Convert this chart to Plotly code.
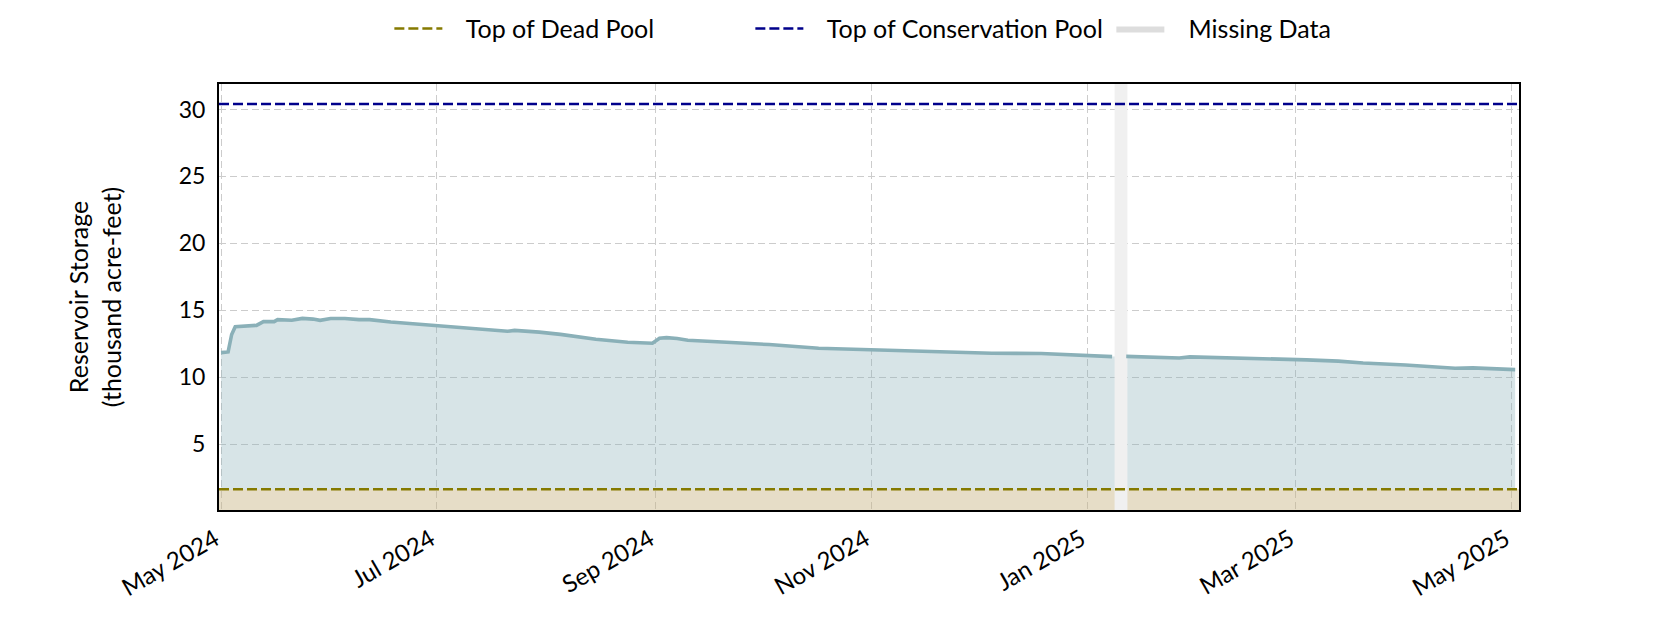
import plotly.graph_objects as go

# ---- data ----
dates = [
    "2024-05-01", "2024-05-03", "2024-05-04", "2024-05-05", "2024-05-11", "2024-05-13",
    "2024-05-16", "2024-05-17", "2024-05-21", "2024-05-24", "2024-05-27", "2024-05-29",
    "2024-06-01", "2024-06-05", "2024-06-09", "2024-06-12", "2024-06-18", "2024-06-23",
    "2024-07-01", "2024-07-09", "2024-07-17", "2024-07-21", "2024-07-23", "2024-07-27",
    "2024-07-30", "2024-08-05", "2024-08-15", "2024-08-24", "2024-08-31", "2024-09-02",
    "2024-09-04", "2024-09-07", "2024-09-10", "2024-09-21", "2024-10-03", "2024-10-17",
    "2024-10-28", "2024-11-01", "2024-11-09", "2024-11-21", "2024-12-05", "2024-12-19",
    "2024-12-31", "2025-01-08", "2025-01-10", "2025-01-12", "2025-01-21", "2025-01-27",
    "2025-01-30", "2025-02-01", "2025-02-13", "2025-02-22", "2025-03-04", "2025-03-13",
    "2025-03-20", "2025-04-01", "2025-04-10", "2025-04-15", "2025-04-20", "2025-04-24",
    "2025-05-02",
]
storage = [
    11.85, 11.90, 13.20, 13.78, 13.88, 14.16,
    14.16, 14.31, 14.26, 14.40, 14.35, 14.26,
    14.40, 14.40, 14.31, 14.31, 14.13, 14.03,
    13.88, 13.71, 13.54, 13.44, 13.51, 13.46,
    13.38, 13.21, 12.84, 12.62, 12.55, 12.92,
    12.97, 12.90, 12.77, 12.62, 12.45, 12.17,
    12.10, 12.05, 12.00, 11.92, 11.80, 11.78,
    11.68, 11.55, None, 11.57, 11.50, 11.45,
    11.53, 11.52, 11.45, 11.36, 11.31, 11.21,
    11.07, 10.92, 10.80, 10.68, 10.71, 10.66,
    10.58,
]
dead_pool = 1.65
conservation_pool = 30.4
missing_start = "2025-01-08 17:00"
missing_end = "2025-01-12 08:00"
x_range = ["2024-04-30 10:00", "2025-05-03 02:00"]
y_range = [0.1, 31.9]
y_ticks = [5, 10, 15, 20, 25, 30]
legend_names = ["Top of Dead Pool", "Top of Conservation Pool", "Missing Data"]

FONT = "Lato"
line_col = "#8ab0b8"
PAD = "\u00a0\u00a0\u00a0"

fig = go.Figure()

# dead pool fill (tan)
fig.add_trace(go.Scatter(x=x_range, y=[dead_pool, dead_pool], mode="lines",
                         line=dict(width=0), fill="tozeroy",
                         fillcolor="rgba(200,180,130,0.45)", showlegend=False,
                         hoverinfo="skip"))
# baseline for storage fill
filled_dates = [d for d, v in zip(dates, storage) if v is not None]
filled_vals = [v for v in storage if v is not None]
fig.add_trace(go.Scatter(x=filled_dates, y=[dead_pool] * len(filled_dates), mode="lines",
                         line=dict(width=0), showlegend=False, hoverinfo="skip"))
fig.add_trace(go.Scatter(x=filled_dates, y=filled_vals, mode="lines",
                         line=dict(width=0), fill="tonexty",
                         fillcolor="rgba(138,176,184,0.34)", showlegend=False,
                         hoverinfo="skip"))
# missing data band
fig.add_trace(go.Scatter(x=[missing_start, missing_start, missing_end, missing_end, missing_start],
                         y=[y_range[0], y_range[1], y_range[1], y_range[0], y_range[0]],
                         mode="lines", line=dict(width=0), fill="toself",
                         fillcolor="#f0f0f0", showlegend=False, hoverinfo="skip"))
# storage line
fig.add_trace(go.Scatter(x=dates, y=storage, mode="lines",
                         line=dict(color=line_col, width=3.6),
                         connectgaps=False, showlegend=False))
# pool lines
fig.add_trace(go.Scatter(x=x_range, y=[dead_pool, dead_pool], mode="lines",
                         line=dict(color="#857a00", width=2.5, dash="10px,4px"),
                         name=PAD + legend_names[0]))
fig.add_trace(go.Scatter(x=x_range, y=[conservation_pool, conservation_pool], mode="lines",
                         line=dict(color="#00008b", width=2.5, dash="10px,4px"),
                         name=PAD + legend_names[1]))
# legend-only missing data patch
fig.add_trace(go.Scatter(x=[None], y=[None], mode="lines", fill="toself",
                         fillcolor="#dddddd", line=dict(width=0),
                         name=PAD + legend_names[2]))

fig.update_layout(
    width=1680, height=630,
    paper_bgcolor="white", plot_bgcolor="white",
    margin=dict(l=211, r=169, t=76, b=128, autoexpand=False),
    font=dict(family=FONT, size=23, color="black"),
    legend=dict(orientation="h", x=0.227, xanchor="left", xref="container",
                y=0.967, yanchor="middle", yref="container", traceorder="normal",
                font=dict(size=25), bgcolor="rgba(0,0,0,0)",
                entrywidth=298, itemwidth=48),
    showlegend=True,
)
fig.update_xaxes(
    type="date", range=x_range, tick0="2024-05-01", dtick="M2", tickformat="%b %Y",
    tickangle=-30, showgrid=True, gridcolor="#cccccc", griddash="7px,4px", gridwidth=1.4,
    showline=True, linecolor="black", linewidth=2, mirror=True, ticks="",
    zeroline=False, tickfont=dict(size=24), automargin=False, ticklabelstandoff=4,
    ticklabelshift=-6,
)
fig.update_yaxes(
    range=y_range, tickvals=y_ticks, showgrid=True, gridcolor="#cccccc",
    griddash="7px,4px", gridwidth=1.4, showline=True, linecolor="black", linewidth=2,
    mirror=True, ticks="", zeroline=False, tickfont=dict(size=23), ticklabelstandoff=7,
    automargin=False,
    title=dict(text="Reservoir Storage<br>(thousand acre-feet)", font=dict(size=25),
               standoff=50),
)

fig.write_html("out.html")
